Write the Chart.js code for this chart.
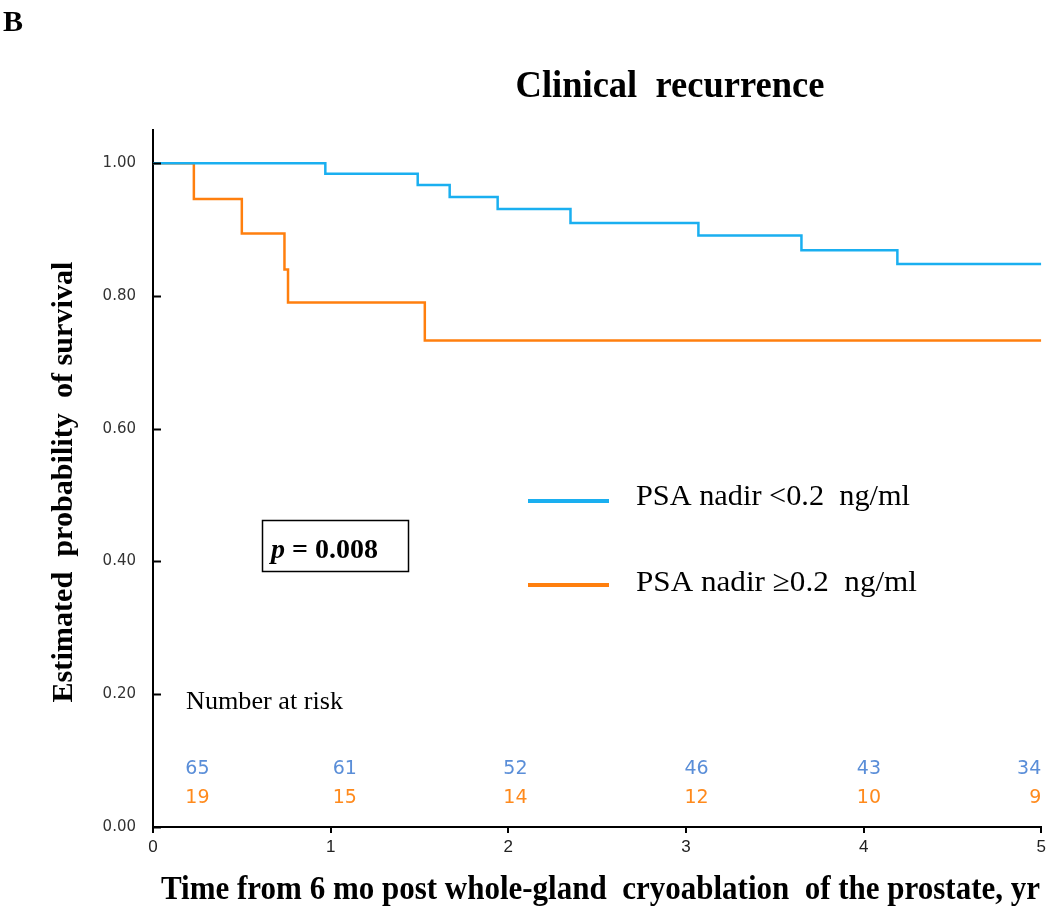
<!DOCTYPE html>
<html>
<head>
<meta charset="utf-8">
<script src="https://cdn.jsdelivr.net/npm/chart.js@4.4.1/dist/chart.umd.min.js"></script>
<style>
  html, body { margin: 0; padding: 0; background: #fff; }
  #wrap { width: 1050px; height: 906px; position: relative; }
</style>
</head>
<body>
<div id="wrap"><canvas id="km"></canvas></div>
<script>
// Kaplan-Meier steps (years, survival probability)
const timesLow = [0, 0.97, 1.49, 1.67, 1.94, 2.35, 3.07, 3.65, 4.19, 5];
const survLow = [1, 0.984, 0.967, 0.949, 0.931, 0.910, 0.891, 0.869, 0.848, 0.848];
const timesHigh = [0, 0.23, 0.50, 0.74, 0.76, 1.53, 5];
const survHigh = [1, 0.946, 0.894, 0.840, 0.790, 0.733, 0.733];

// Number at risk table
const riskTimes = [0.25, 1.08, 2.04, 3.06, 4.03, 5];
const riskLow = [65, 61, 52, 46, 43, 34];
const riskHigh = [19, 15, 14, 12, 10, 9];

const seriesNames = ["PSA nadir <0.2  ng/ml", "PSA nadir \u22650.2  ng/ml"];
const xTicks = [0, 1, 2, 3, 4, 5];
const yTicks = [0, 0.2, 0.4, 0.6, 0.8, 1.0];

const blue = "#1aaff0";
const orange = "#ff7f0e";

const toPoints = (xs, ys) => xs.map((x, i) => ({ x: x, y: ys[i] }));

// draw text squeezed/stretched to a given width (the figure uses a condensed serif)
const fitText = (ctx, text, x, y, w, font, align) => {
  ctx.save();
  ctx.font = font;
  const m = ctx.measureText(text).width;
  ctx.translate(x, y);
  ctx.scale(w / m, 1);
  ctx.textAlign = align;
  ctx.textBaseline = "alphabetic";
  ctx.fillText(text, 0, 0);
  ctx.restore();
};

const overlay = {
  id: "overlay",
  afterDraw(chart) {
    const ctx = chart.ctx;
    const xs = chart.scales.x;
    const ys = chart.scales.y;
    const area = chart.chartArea;
    ctx.save();
    ctx.fillStyle = "#000";

    // panel letter and title
    fitText(ctx, "B", 3, 31, 20, "bold 30px 'Liberation Serif'", "left");
    fitText(ctx, "Clinical  recurrence", 670, 97, 309, "bold 38px 'Liberation Serif'", "center");

    // axis titles
    fitText(ctx, "Time from 6 mo post whole-gland  cryoablation  of the prostate, yr", 161, 899, 879,
      "bold 33px 'Liberation Serif'", "left");
    ctx.save();
    ctx.translate(72, 482);
    ctx.rotate(-Math.PI / 2);
    fitText(ctx, "Estimated  probability  of survival", 0, 0, 441, "bold 30px 'Liberation Serif'", "center");
    ctx.restore();

    // inward y ticks
    ctx.strokeStyle = "#000";
    ctx.lineWidth = 2;
    yTicks.forEach(v => {
      const py = Math.round(ys.getPixelForValue(v)) + 0.5;
      ctx.beginPath();
      ctx.moveTo(area.left, py);
      ctx.lineTo(area.left + 8, py);
      ctx.stroke();
    });

    // legend
    [blue, orange].forEach((c, i) => {
      const ly = [501, 585][i];
      ctx.strokeStyle = c;
      ctx.lineWidth = 4;
      ctx.beginPath();
      ctx.moveTo(528, ly);
      ctx.lineTo(609, ly);
      ctx.stroke();
      ctx.fillStyle = "#000";
      fitText(ctx, seriesNames[i], 636, [505, 591][i], [274, 281][i], "30px 'Liberation Serif'", "left");
    });

    // p-value box
    ctx.strokeStyle = "#000";
    ctx.lineWidth = 1.5;
    ctx.strokeRect(262.5, 520.5, 146, 51);
    ctx.font = "italic bold 28px 'Liberation Serif'";
    ctx.textAlign = "left";
    ctx.fillText("p", 271, 558);
    const pw = ctx.measureText("p").width;
    ctx.font = "bold 28px 'Liberation Serif'";
    ctx.fillText(" = 0.008", 271 + pw, 558);

    // number at risk
    fitText(ctx, "Number at risk", 186, 709, 157, "26px 'Liberation Serif'", "left");
    ctx.font = "19px 'DejaVu Sans'";
    ctx.textBaseline = "alphabetic";
    const rows = [[riskLow, "#5a8ed8", 0.0805], [riskHigh, "#ff8a1c", 0.0365]];
    rows.forEach(([vals, col, yv]) => {
      ctx.fillStyle = col;
      const py = ys.getPixelForValue(yv);
      vals.forEach((n, i) => {
        const s = String(n);
        const w = ctx.measureText(s).width;
        let px = xs.getPixelForValue(riskTimes[i]) - w / 2;
        if (px + w > area.right) px = area.right - w;
        ctx.textAlign = "left";
        ctx.fillText(s, px, py);
      });
    });
    ctx.restore();
  }
};

new Chart(document.getElementById("km"), {
  type: "line",
  plugins: [overlay],
  data: {
    datasets: [
      {
        label: seriesNames[0],
        data: toPoints(timesLow, survLow),
        borderColor: blue,
        borderWidth: 2.5,
        stepped: "before",
        pointRadius: 0,
        fill: false,
      },
      {
        label: seriesNames[1],
        data: toPoints(timesHigh, survHigh),
        borderColor: orange,
        borderWidth: 2.5,
        stepped: "before",
        pointRadius: 0,
        fill: false,
      },
    ],
  },
  options: {
    responsive: true,
    maintainAspectRatio: false,
    animation: false,
    layout: { padding: { top: 130, right: 7, left: 0, bottom: 0 } },
    plugins: {
      legend: { display: false },
      tooltip: { enabled: false },
    },
    scales: {
      x: {
        type: "linear",
        min: 0,
        max: 5,
        afterBuildTicks: (s) => { s.ticks = xTicks.map(v => ({ value: v })); },
        afterFit: (s) => { s.height = 79; },
        grid: { drawOnChartArea: false, drawTicks: true, tickLength: 6, color: "#000", lineWidth: 2 },
        border: { display: true, color: "#000", width: 2 },
        ticks: { color: "#222", font: { family: "'Liberation Sans'", size: 17 }, padding: 4, maxRotation: 0 },
      },
      y: {
        type: "linear",
        min: 0,
        max: 1.05,
        afterBuildTicks: (s) => { s.ticks = yTicks.map(v => ({ value: v })); },
        afterFit: (s) => { s.width = 153; },
        grid: { drawOnChartArea: false, drawTicks: false },
        border: { display: true, color: "#000", width: 2 },
        ticks: {
          color: "#333",
          font: { family: "'DejaVu Sans'", size: 15 },
          padding: 17,
          callback: (v) => Number(v).toFixed(2),
        },
      },
    },
  },
});
</script>
</body>
</html>
